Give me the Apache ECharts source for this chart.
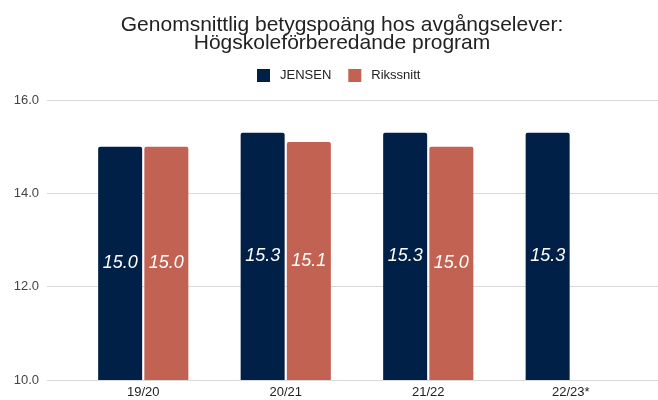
<!DOCTYPE html>
<html>
<head>
<meta charset="utf-8">
<script src="https://cdn.jsdelivr.net/npm/echarts@6/dist/echarts.min.js"></script>
<style>
  html, body { margin: 0; padding: 0; background: #fff; }
  #chart { width: 658px; height: 400px; }
</style>
</head>
<body>
<div id="chart"></div>
<script>
var categories = ['19/20', '20/21', '21/22', '22/23*'];
var jensen = [15.0, 15.3, 15.3, 15.3];
var rikssnitt = [15.0, 15.1, 15.0, null];
var yTicks = [10, 12, 14, 16];

var font = 'Liberation Sans, Arial, sans-serif';

function barLabel() {
    return {
        show: true,
        position: 'inside',
        color: '#fff',
        fontStyle: 'italic',
        fontSize: 18,
        fontFamily: font,
        formatter: function (p) { return p.value.toFixed(1); }
    };
}

var myChart = echarts.init(document.getElementById('chart'));
var option = {
    backgroundColor: '#fff',
    animation: false,
    title: {
        text: 'Genomsnittlig betygspoäng hos avgångselever:\nHögskoleförberedande program',
        left: 337,
        top: 11,
        textAlign: 'center',
        textStyle: {
            fontFamily: font,
            fontSize: 21,
            fontWeight: 'normal',
            color: '#222',
            lineHeight: 18
        }
    },
    legend: {
        left: 252,
        top: 64,
        itemWidth: 13,
        itemHeight: 13,
        itemGap: 17,
        icon: 'rect',
        textStyle: { fontFamily: font, fontSize: 13, color: '#222', padding: [0, 0, 0, 5] },
        data: ['JENSEN', 'Rikssnitt']
    },
    grid: [
        { left: 72, right: 16, top: 100, bottom: 20 },
        { left: 47, right: 0, top: 100, bottom: 20 }
    ],
    xAxis: [
        {
            type: 'category',
            gridIndex: 0,
            data: categories,
            axisLine: { show: false },
            axisTick: { show: false },
            axisLabel: { fontFamily: font, fontSize: 13, color: '#222', margin: 6 }
        },
        { type: 'category', gridIndex: 1, data: categories, show: false }
    ],
    yAxis: [
        { type: 'value', gridIndex: 0, min: 10, max: 16, interval: 2, show: false },
        {
            type: 'value',
            gridIndex: 1,
            min: yTicks[0],
            max: yTicks[yTicks.length - 1],
            interval: 2,
            axisLine: { show: false },
            axisTick: { show: false },
            axisLabel: {
                fontFamily: font, fontSize: 13, color: '#444', margin: 8,
                formatter: function (v) { return v.toFixed(1); }
            },
            splitLine: { lineStyle: { color: '#d9d9d9', width: 1 } }
        }
    ],
    series: [
        {
            name: 'JENSEN',
            type: 'bar',
            xAxisIndex: 0,
            yAxisIndex: 0,
            data: jensen,
            barWidth: 44,
            barGap: '5%',
            itemStyle: { color: '#012047', borderRadius: [2, 2, 0, 0] },
            label: barLabel()
        },
        {
            name: 'Rikssnitt',
            type: 'bar',
            xAxisIndex: 0,
            yAxisIndex: 0,
            data: rikssnitt,
            barWidth: 44,
            barGap: '5%',
            itemStyle: { color: '#c16253', borderRadius: [2, 2, 0, 0] },
            label: barLabel()
        }
    ]
};
myChart.setOption(option);
</script>
</body>
</html>
